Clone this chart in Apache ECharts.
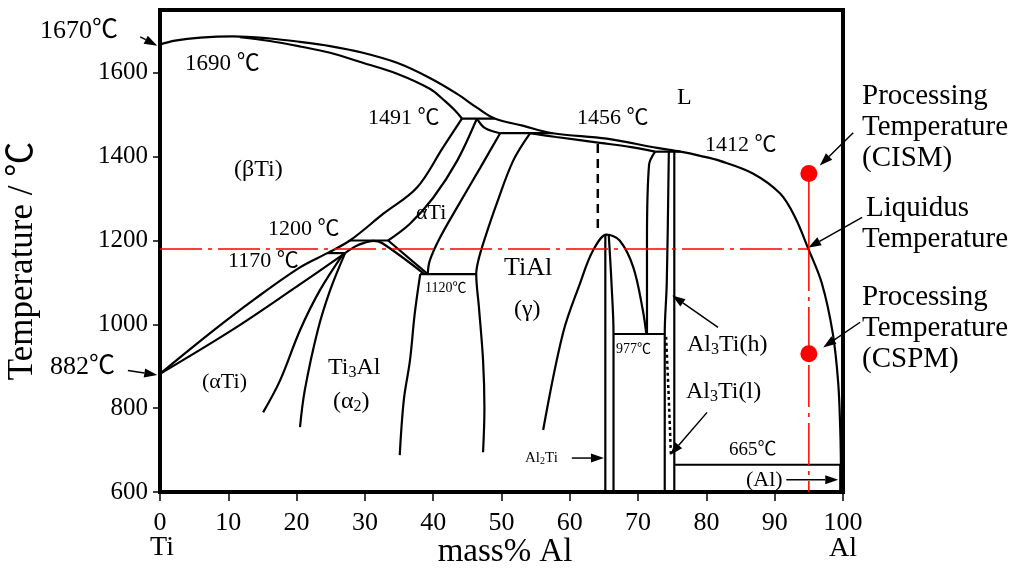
<!DOCTYPE html>
<html>
<head>
<meta charset="utf-8">
<script src="https://cdn.jsdelivr.net/npm/echarts@6/dist/echarts.min.js"></script>
<style>
    html, body { margin: 0; background: #fff; }
    #chart { width: 1024px; height: 580px; }
</style>
</head>
<body>
<div id="chart"></div>
<script>
// axis ticks
const xTicks = [0, 10, 20, 30, 40, 50, 60, 70, 80, 90, 100];
const yTicks = [600, 800, 1000, 1200, 1400, 1600];

// phase boundaries, [mass% Al, temperature C]
const liquidus = [[0, 1668], [2.2, 1677], [5.9, 1684], [10.7, 1687], [16.1, 1682], [20.5, 1674], [24.9, 1664], [29.7, 1648], [34.7, 1624], [39.5, 1588], [43.5, 1550], [46.4, 1517], [49.0, 1491], [53.1, 1474], [57.5, 1456], [65.4, 1443], [72.8, 1421], [76.2, 1412], [79.1, 1402], [82.0, 1390], [86.8, 1360], [90.8, 1312], [93.0, 1255], [94.9, 1181], [96.9, 1098], [98.5, 979], [99.3, 860], [99.6, 748], [99.7, 665]];
const solidusBeta = [[11.7, 1685], [16.1, 1676], [20.5, 1663], [24.9, 1648], [29.7, 1624], [34.7, 1598], [39.5, 1562], [41.7, 1533], [43.2, 1510], [44.2, 1491]];
const betaTransus = [[0, 882], [7.8, 985], [14, 1062], [20.5, 1136], [24.5, 1170], [27.8, 1200], [32.7, 1264], [37.6, 1326], [41.4, 1421], [44.2, 1491]];
const alphaLower = [[0, 882], [10.7, 988], [20, 1090], [27.1, 1170]];
const alphaTransus = [[46.4, 1491], [43.5, 1390], [40.0, 1302], [36.6, 1240], [33.4, 1200]];
const alphaCap = [[46.4, 1491], [47.6, 1468], [49.8, 1456]];
const alphaGamma = [[49.8, 1456], [46.9, 1374], [43.5, 1279], [41.0, 1207], [39.5, 1152], [39.2, 1120]];
const alpha2Dome = [[27.1, 1170], [28.6, 1186], [30.0, 1195], [31.2, 1199], [32.5, 1194], [38.7, 1120]];
const eutectoidSide = [[33.4, 1200], [39.2, 1120]];
const alpha2Right = [[38.1, 1120], [37.3, 1026], [36.6, 914], [35.7, 820], [35.1, 688]];
const alpha2LeftA = [[26.9, 1170], [23.4, 1081], [20.5, 986], [17.6, 867], [15.1, 790]];
const alpha2LeftB = [[27.1, 1170], [24.9, 1081], [23.1, 986], [21.2, 843], [20.5, 755]];
const gammaLeft = [[54.2, 1456], [51.7, 1390], [49.3, 1288], [47.6, 1207], [46.6, 1152], [46.3, 1120], [46.7, 1040], [47.3, 914], [47.5, 800], [47.3, 695]];
const gammaSolidus = [[54.2, 1456], [58, 1447], [64.4, 1433], [69, 1423], [72.5, 1412]];
const gammaDome = [[56.1, 748], [59.0, 979], [61.5, 1098], [63.4, 1176], [65.4, 1214], [67.3, 1200], [69.3, 1136], [70.7, 1033], [71.2, 977]];
const gammaRight = [[71.3, 977], [71.3, 1200], [71.6, 1380], [72.5, 1412]];
const al2TiA = [[65.2, 1213], [65.2, 600]];
const al2TiB = [[65.7, 1213], [66.1, 1100], [66.4, 977], [66.4, 600]];
const al3TiA = [[74.5, 1412], [74.2, 1100], [73.9, 977], [73.9, 600]];
const al3TiB = [[75.3, 1412], [75.3, 600]];
const al3TiLow = [[74.1, 970], [74.5, 820], [74.8, 690]];
const alSolvus = [[99.6, 665], [99.6, 600]];
const hiddenLine = [[64.1, 1430], [64.1, 1228]];

// invariant temperatures
const line1491 = [[44.2, 1491], [49.0, 1491]];
const line1456 = [[49.8, 1456], [57.5, 1456]];
const line1412 = [[72.5, 1412], [76.2, 1412]];
const line1200 = [[27.8, 1200], [33.4, 1200]];
const line1170 = [[24.5, 1170], [27.1, 1170]];
const line1120 = [[38.1, 1120], [46.3, 1120]];
const line977 = [[66.4, 977], [73.9, 977]];
const line665 = [[75.3, 665], [99.7, 665]];

// processing window at 95 mass% Al
const liquidusLevel = [[0, 1180], [94.9, 1180]];
const processAbove = [[95, 1360], [95, 1180]];
const processBelow = [[95, 1180], [95, 600]];
const processPoints = [[95, 1360], [95, 930]];

const serif = "'Liberation Serif', 'Noto Sans CJK SC', serif";
const dashDot = [42, 6, 4, 6];

const phase = (data, smooth, extra) => Object.assign({
    type: 'line',
    data: data,
    symbol: 'none',
    smooth: smooth ? 0.35 : false,
    silent: true,
    lineStyle: { color: '#000', width: 2.2 }
}, extra || {});

const curves = [liquidus, solidusBeta, betaTransus, alphaLower, alphaTransus, alphaCap, alphaGamma,
    alpha2Dome, alpha2Right, alpha2LeftA, alpha2LeftB, gammaLeft, gammaSolidus, gammaDome, gammaRight,
    al2TiB, al3TiA];
const straights = [eutectoidSide, al2TiA, al3TiB, alSolvus,
    line1491, line1456, line1412, line1200, line1170, line1120, line977, line665];

const series = [];
curves.forEach(c => series.push(phase(c, true)));
straights.forEach(c => series.push(phase(c, false)));
series.push(phase(hiddenLine, false, { lineStyle: { color: '#000', width: 2.5, type: [9, 6] } }));
series.push(phase(al3TiLow, true, { lineStyle: { color: '#000', width: 2.5, type: [3, 3] } }));
series.push(phase(liquidusLevel, false, { lineStyle: { color: '#ff0000', width: 1.5, type: dashDot } }));
series.push(phase(processAbove, false, { lineStyle: { color: '#ff0000', width: 1.5 } }));
series.push(phase(processBelow, false, { lineStyle: { color: '#ff0000', width: 1.5, type: dashDot } }));
series.push({
    type: 'scatter',
    data: processPoints,
    symbolSize: 17,
    silent: true,
    z: 5,
    itemStyle: { color: '#ff0000', opacity: 1 }
});

const chart = echarts.init(document.getElementById('chart'));

chart.setOption({
    animation: false,
    grid: {
        left: 160,
        right: 181,
        top: 10,
        bottom: 88,
        show: true,
        borderColor: '#000',
        borderWidth: 4
    },
    xAxis: {
        type: 'value',
        min: 0,
        max: 100,
        interval: 10,
        axisLine: { lineStyle: { color: '#000', width: 4 } },
        axisTick: { length: 9, lineStyle: { color: '#000', width: 1.5 } },
        axisLabel: { color: '#000', fontFamily: serif, fontSize: 26, margin: 18, formatter: v => String(v) },
        splitLine: { show: false }
    },
    yAxis: {
        type: 'value',
        min: 600,
        max: 1750,
        interval: 200,
        axisLine: { lineStyle: { color: '#000', width: 4 } },
        axisTick: { length: 7, customValues: yTicks, lineStyle: { color: '#000', width: 1.5 } },
        axisLabel: { color: '#000', fontFamily: serif, fontSize: 25, margin: 12, customValues: yTicks, formatter: v => String(v) },
        splitLine: { show: false }
    },
    series: series
});

// annotations: [text, left x, middle y, font size]
const notes = [
    ['1670℃', 40, 31, 26],
    ['1690 ℃', 185, 64, 23],
    ['1491 ℃', 368, 118, 22],
    ['1456 ℃', 577, 118, 22],
    ['L', 677, 98, 24],
    ['1412 ℃', 705, 145, 22],
    ['(βTi)', 234, 170, 24],
    ['αTi', 416, 213, 22],
    ['1200 ℃', 268, 229, 22],
    ['1170 ℃', 228, 261, 22],
    ['1120℃', 425, 288, 14],
    ['TiAl', 504, 268, 26],
    ['(γ)', 514, 310, 24],
    ['{n|Ti}{s|3}{n|Al}', 328, 368, 24],
    ['{n|(α}{s|2}{n|)}', 333, 402, 24],
    ['(αTi)', 202, 382, 22],
    ['882℃', 50, 367, 26],
    ['{n|Al}{s|2}{n|Ti}', 525, 458, 15],
    ['977℃', 616, 349, 14],
    ['{n|Al}{s|3}{n|Ti(h)}', 687, 345, 24],
    ['{n|Al}{s|3}{n|Ti(l)}', 686, 392, 24],
    ['665℃', 729, 450, 19],
    ['(Al)', 746, 480, 22],
    ['Processing\nTemperature\n(CISM)', 862, 127, 29],
    ['Liquidus', 866, 208, 29],
    ['Temperature', 862, 239, 29],
    ['Processing\nTemperature\n(CSPM)', 862, 328, 29]
];

// arrows: [tail, tip] in data units
const arrows = [
    [[-2.9, 1686], [-0.4, 1665]],
    [[-4.7, 890], [-0.4, 879]],
    [[60.3, 681], [65.0, 681]],
    [[81.7, 993], [75.0, 1069]],
    [[80.1, 790], [74.7, 688]],
    [[91.7, 629], [99.3, 629]],
    [[101.5, 1457], [96.6, 1379]],
    [[102.8, 1255], [94.9, 1183]],
    [[102.5, 1005], [97.1, 945]]
];

const graphics = [];

notes.forEach(([text, x, y, size]) => {
    graphics.push({
        type: 'text',
        x: x,
        y: y,
        silent: true,
        style: {
            text: text,
            fill: '#000',
            fontFamily: serif,
            fontSize: size,
            lineHeight: Math.round(size * 1.06),
            align: 'left',
            textAlign: 'left',
            verticalAlign: 'middle',
            textVerticalAlign: 'middle',
            rich: {
                n: { fontFamily: serif, fontSize: size, fill: '#000' },
                s: { fontFamily: serif, fontSize: Math.round(size * 0.65), fill: '#000', verticalAlign: 'bottom', lineHeight: Math.round(size * 0.4) }
            }
        }
    });
});

const centered = [
    ['Ti', 162, 548, 28, 0],
    ['Al', 843, 549, 28, 0],
    ['mass% Al', 505, 552, 33, 0],
    ['Temperature / ℃', 23, 261, 35, Math.PI / 2]
];
centered.forEach(([text, x, y, size, rot]) => {
    graphics.push({
        type: 'text',
        x: x,
        y: y,
        rotation: rot,
        silent: true,
        style: {
            text: text,
            fill: '#000',
            fontFamily: serif,
            fontSize: size,
            align: 'center',
            textAlign: 'center',
            verticalAlign: 'middle',
            textVerticalAlign: 'middle'
        }
    });
});

arrows.forEach(([from, to]) => {
    const a = chart.convertToPixel({ gridIndex: 0 }, from);
    const b = chart.convertToPixel({ gridIndex: 0 }, to);
    const ang = Math.atan2(b[1] - a[1], b[0] - a[0]);
    const len = 13, half = 4.5;
    const bx = b[0] - len * Math.cos(ang), by = b[1] - len * Math.sin(ang);
    graphics.push({
        type: 'line',
        silent: true,
        shape: { x1: a[0], y1: a[1], x2: bx, y2: by },
        style: { stroke: '#000', lineWidth: 1.5 }
    });
    graphics.push({
        type: 'polygon',
        silent: true,
        shape: {
            points: [
                [b[0], b[1]],
                [bx + half * Math.sin(ang), by - half * Math.cos(ang)],
                [bx - half * Math.sin(ang), by + half * Math.cos(ang)]
            ]
        },
        style: { fill: '#000' }
    });
});

chart.setOption({ graphic: graphics });
</script>
</body>
</html>
